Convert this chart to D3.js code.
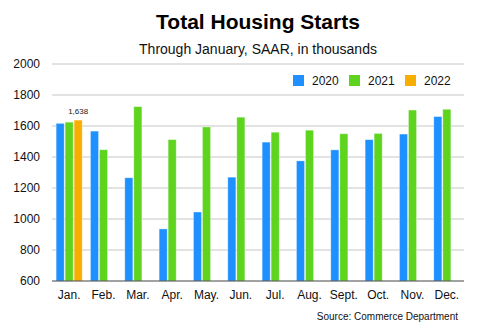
<!DOCTYPE html>
<html>
<head>
<meta charset="utf-8">
<script src="https://cdn.jsdelivr.net/npm/d3@7"></script>
<style>
  body { margin: 0; background: #fff; }
  svg { display: block; font-family: "Liberation Sans", Arial, Helvetica, sans-serif; }
</style>
</head>
<body>
<svg width="480" height="330"></svg>
<script>
const width = 480;
const height = 330;

const months = ["Jan.", "Feb.", "Mar.", "Apr.", "May.", "Jun.", "Jul.", "Aug.", "Sept.", "Oct.", "Nov.", "Dec."];
const seriesNames = ["2020", "2021", "2022"];
const values2020 = [1617, 1567, 1266, 936, 1045, 1270, 1496, 1375, 1446, 1512, 1548, 1661];
const values2021 = [1625, 1447, 1725, 1512, 1594, 1657, 1560, 1573, 1550, 1552, 1703, 1708];
const values2022 = [1638];
const yTicks = [600, 800, 1000, 1200, 1400, 1600, 1800, 2000];
const colors = ["#1E90FF", "#5ED41F", "#F7AE00"];

const margin = { top: 64, right: 16, bottom: 49, left: 52 };

const svg = d3.select("svg")
    .attr("viewBox", [0, 0, width, height]);

const allSeries = [values2020, values2021, values2022];

const x0 = d3.scaleBand()
    .domain(months)
    .range([margin.left, width - margin.right])
    .paddingInner(0.24)
    .paddingOuter(0.12);

const x1 = d3.scaleBand()
    .domain(seriesNames)
    .range([0, x0.bandwidth()])
    .paddingInner(0.1);

const y = d3.scaleLinear()
    .domain([600, 2000])
    .range([height - margin.bottom, margin.top]);

// 网格线
svg.append("g")
    .selectAll("line")
    .data(yTicks.slice(1))
    .join("line")
    .attr("x1", margin.left)
    .attr("x2", width - margin.right)
    .attr("y1", d => y(d))
    .attr("y2", d => y(d))
    .attr("stroke", "#c6c6c6")
    .attr("stroke-width", 1);

// y 轴标签
svg.append("g")
    .selectAll("text")
    .data(yTicks)
    .join("text")
    .attr("x", margin.left - 12)
    .attr("y", d => y(d))
    .attr("dy", "0.35em")
    .attr("text-anchor", "end")
    .attr("font-size", 12)
    .attr("fill", "#111")
    .text(d => d);

// 柱子
const bars = [];
allSeries.forEach((vals, si) => {
    vals.forEach((v, mi) => bars.push({ month: months[mi], series: seriesNames[si], value: v, si }));
});

svg.append("g")
    .selectAll("rect")
    .data(bars)
    .join("rect")
    .attr("x", d => x0(d.month) + x1(d.series))
    .attr("y", d => y(d.value))
    .attr("width", x1.bandwidth())
    .attr("height", d => y(600) - y(d.value))
    .attr("fill", d => colors[d.si])
    .attr("stroke", "rgba(255,255,255,0.45)")
    .attr("stroke-width", 0.8);

// 底部轴线
svg.append("line")
    .attr("x1", margin.left)
    .attr("x2", width - margin.right)
    .attr("y1", y(600))
    .attr("y2", y(600))
    .attr("stroke", "#444")
    .attr("stroke-width", 1);

// x 轴标签
svg.append("g")
    .selectAll("text")
    .data(months)
    .join("text")
    .attr("x", d => x0(d) + x0.bandwidth() / 2)
    .attr("y", y(600) + 18)
    .attr("text-anchor", "middle")
    .attr("font-size", 12)
    .attr("fill", "#111")
    .text(d => d);

// 数据标签
svg.append("text")
    .attr("x", x0(months[0]) + x1("2022") + x1.bandwidth() / 2)
    .attr("y", y(values2022[0]) - 6)
    .attr("text-anchor", "middle")
    .attr("font-size", 8)
    .attr("fill", "#222")
    .text(d3.format(",")(values2022[0]));

// 图例
const legendX = [293, 349, 405];
const legend = svg.append("g")
    .selectAll("g")
    .data(seriesNames)
    .join("g")
    .attr("transform", (d, i) => `translate(${legendX[i]},75)`);

legend.append("rect")
    .attr("width", 11)
    .attr("height", 11)
    .attr("fill", (d, i) => colors[i]);

legend.append("text")
    .attr("x", 19)
    .attr("y", 10)
    .attr("font-size", 12)
    .attr("fill", "#111")
    .text(d => d);

// 标题
svg.append("text")
    .attr("x", 258)
    .attr("y", 29)
    .attr("text-anchor", "middle")
    .attr("font-size", 21)
    .attr("font-weight", "bold")
    .attr("fill", "#000")
    .text("Total Housing Starts");

svg.append("text")
    .attr("x", 258)
    .attr("y", 54)
    .attr("text-anchor", "middle")
    .attr("font-size", 14)
    .attr("fill", "#111")
    .text("Through January, SAAR, in thousands");

svg.append("text")
    .attr("x", 458)
    .attr("y", 320)
    .attr("text-anchor", "end")
    .attr("font-size", 10)
    .attr("fill", "#111")
    .text("Source: Commerce Department");
</script>
</body>
</html>
